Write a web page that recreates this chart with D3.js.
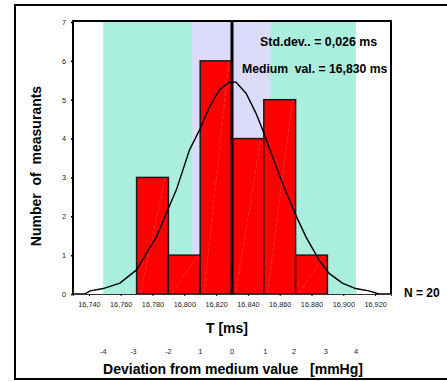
<!DOCTYPE html>
<html>
<head>
<meta charset="utf-8">
<script src="https://cdn.jsdelivr.net/npm/d3@7"></script>
<style>
  body { margin: 0; background: #fff; }
  svg text { font-family: "Liberation Sans", Arial, sans-serif; }
</style>
</head>
<body>
<svg id="viz" width="447" height="381"></svg>
<script>
// histogram bins (bin centre in ms) and counts
const binCenters = [16.780, 16.800, 16.820, 16.840, 16.860, 16.880];
const counts = [3, 1, 6, 4, 5, 1];
const binWidth = 0.020;

// shaded bands behind the bars
const greenBand = [16.749, 16.908];
const blueBand = [16.805, 16.854];
const meanValue = 16.830;

// fitted curve
const curveT = [16.730, 16.7375, 16.7407, 16.749, 16.7595, 16.770, 16.7762, 16.7825, 16.7887, 16.795,
  16.8033, 16.8096, 16.8159, 16.8221, 16.8284, 16.8326, 16.8389, 16.8451, 16.8493, 16.8555,
  16.8618, 16.8691, 16.8765, 16.8848, 16.8911, 16.8994, 16.9078, 16.9161, 16.9224, 16.9293];
const curveN = [0, 0, 0.08, 0.14, 0.28, 0.62, 1.05, 1.47, 2.08, 2.68,
  3.71, 4.22, 4.82, 5.25, 5.46, 5.45, 5.16, 4.65, 4.22, 3.53,
  2.85, 2.12, 1.47, 0.87, 0.53, 0.28, 0.14, 0.08, 0, 0];

// tick labels
const xTicks = [16.740, 16.760, 16.780, 16.800, 16.820, 16.840, 16.860, 16.880, 16.900, 16.920];
const yTicks = [0, 1, 2, 3, 4, 5, 6, 7];
const devLabels = ["-4", "-3", "-2", "1", "0", "1", "2", "3", "4"];
const devPos = [16.749, 16.768, 16.790, 16.810, 16.830, 16.851, 16.869, 16.889, 16.908];

let svg = d3.select("#viz");

let x = d3.scaleLinear().domain([16.730, 16.930]).range([73, 391]);
let y = d3.scaleLinear().domain([0, 7]).range([294, 22]);

let comma = d3.formatLocale({ decimal: ",", thousands: ".", grouping: [3], currency: ["", ""] });
let fmt = comma.format(".3f");

// outer frame
svg.append("rect")
    .attr("x", 15).attr("y", 5).attr("width", 440).attr("height", 374)
    .attr("fill", "none").attr("stroke", "#000").attr("stroke-width", 2);

// bands
svg.append("rect")
    .attr("x", x(greenBand[0])).attr("y", 21)
    .attr("width", x(greenBand[1]) - x(greenBand[0])).attr("height", y(0) - 21)
    .attr("fill", "#aaeedd");
svg.append("rect")
    .attr("x", x(blueBand[0])).attr("y", 21)
    .attr("width", x(blueBand[1]) - x(blueBand[0])).attr("height", y(0) - 21)
    .attr("fill", "#dcdcfa");

// bars
let bins = binCenters.map((c, i) => ({ x0: c - binWidth / 2, x1: c + binWidth / 2, n: counts[i] }));

svg.append("g").selectAll("rect")
    .data(bins)
    .join("rect")
    .attr("x", d => x(d.x0))
    .attr("y", d => y(d.n))
    .attr("width", d => x(d.x1) - x(d.x0))
    .attr("height", d => y(0) - y(d.n))
    .attr("fill", "#ff0000")
    .attr("stroke", "#1a1a1a")
    .attr("stroke-width", 1.5);

// faint diagonal streaks inside the bars
svg.append("g").selectAll("line")
    .data(bins)
    .join("line")
    .attr("x1", d => x(d.x0) + (x(d.x1) - x(d.x0)) * 0.12)
    .attr("y1", y(0) - 1)
    .attr("x2", d => x(d.x1) - (x(d.x1) - x(d.x0)) * 0.1)
    .attr("y2", d => y(d.n) + 1)
    .attr("stroke", "#ffb0b0")
    .attr("stroke-opacity", 0.55)
    .attr("stroke-width", 0.5)
    .attr("stroke-dasharray", "4,2");

// curve
let line = d3.line()
    .x((d, i) => x(curveT[i]))
    .y(d => y(d));
svg.append("path")
    .attr("d", line(curveN))
    .attr("fill", "none")
    .attr("stroke", "#000")
    .attr("stroke-width", 1.4);

// mean line
svg.append("line")
    .attr("x1", x(meanValue)).attr("x2", x(meanValue))
    .attr("y1", 21).attr("y2", y(0))
    .attr("stroke", "#000").attr("stroke-width", 3);

// axes
let xAxis = svg.append("g")
    .attr("transform", `translate(0,${y(0)})`)
    .call(d3.axisBottom(x).tickValues(xTicks).tickFormat(fmt).tickSize(2).tickPadding(6));
xAxis.select(".domain").attr("stroke", "#333").attr("stroke-width", 1);
xAxis.selectAll("text").attr("font-size", 7.3).attr("fill", "#222")
    .style("font-family", "Liberation Sans, Arial, sans-serif");

let yAxis = svg.append("g")
    .attr("transform", "translate(73,0)")
    .call(d3.axisLeft(y).tickValues(yTicks).tickFormat(d3.format("d")).tickSize(2).tickPadding(5));
yAxis.select(".domain").remove();
yAxis.selectAll("line").attr("stroke-width", 1.5);
yAxis.selectAll("text").attr("font-size", 7.3).attr("fill", "#222")
    .style("font-family", "Liberation Sans, Arial, sans-serif");

// plot frame (left, top, right)
svg.append("path")
    .attr("d", `M73,${y(0)}V21H391V${y(0)}`)
    .attr("fill", "none").attr("stroke", "#000").attr("stroke-width", 2);

// deviation scale labels
svg.append("g").selectAll("text")
    .data(devLabels)
    .join("text")
    .attr("x", (d, i) => x(devPos[i]))
    .attr("y", 353.5)
    .attr("text-anchor", "middle")
    .attr("font-size", 7.3)
    .attr("fill", "#222")
    .text(d => d);

// titles and notes
svg.append("text")
    .attr("x", 227).attr("y", 333)
    .attr("text-anchor", "middle")
    .attr("font-size", 14).attr("font-weight", "bold")
    .text("T [ms]");

svg.append("text")
    .attr("x", 233).attr("y", 373.5)
    .attr("text-anchor", "middle")
    .attr("font-size", 14).attr("font-weight", "bold")
    .style("white-space", "pre")
    .text("Deviation from medium value   [mmHg]");

svg.append("text")
    .attr("transform", "translate(41,166) rotate(-90)")
    .attr("text-anchor", "middle")
    .attr("font-size", 14).attr("font-weight", "bold")
    .style("white-space", "pre")
    .text("Number  of  measurants");

svg.append("text")
    .attr("x", 404).attr("y", 296.5)
    .attr("font-size", 12).attr("font-weight", "bold")
    .text("N = 20");

svg.append("text")
    .attr("x", 260).attr("y", 46)
    .attr("font-size", 12.4).attr("font-weight", "bold")
    .text("Std.dev.. = 0,026 ms");

svg.append("text")
    .attr("x", 242).attr("y", 72.5)
    .attr("font-size", 12.2).attr("font-weight", "bold")
    .style("white-space", "pre")
    .text("Medium  val. = 16,830 ms");
</script>
</body>
</html>
